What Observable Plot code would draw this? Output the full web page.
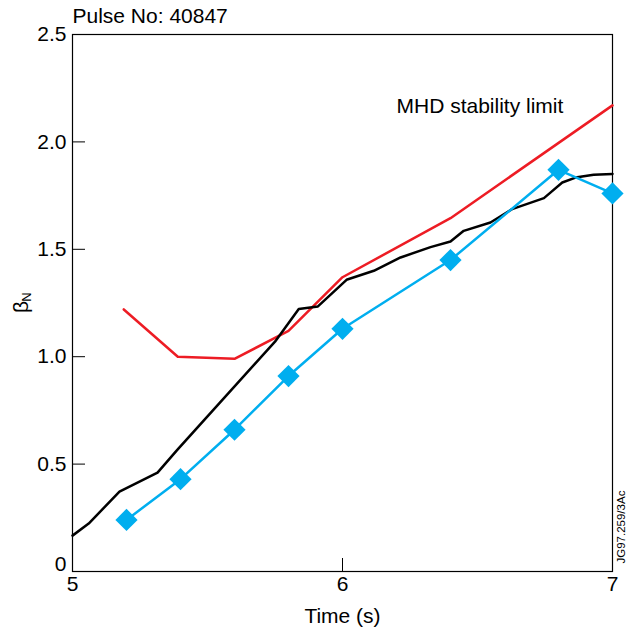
<!DOCTYPE html>
<html>
<head>
<meta charset="utf-8">
<script src="https://cdn.jsdelivr.net/npm/d3@7"></script>
<script src="https://cdn.jsdelivr.net/npm/@observablehq/plot@0.6"></script>
<style>
  html, body { margin: 0; padding: 0; background: #fff; }
</style>
</head>
<body>
<div id="chart"></div>
<script>
// Normalised beta vs time for JET pulse 40847

// MHD stability limit (red)
const limitTime = [5.19, 5.39, 5.6, 5.8, 6.0, 6.4, 7.0];
const limitBeta = [1.22, 1.0, 0.99, 1.12, 1.37, 1.645, 2.17];

// Measured beta_N trace (black)
const traceTime = [5.0, 5.06, 5.174, 5.315, 5.388, 5.75, 5.838, 5.909, 6.015, 6.116, 6.215, 6.326, 6.4, 6.449, 6.548, 6.628, 6.746, 6.77, 6.814, 6.863, 6.93, 7.0];
const traceBeta = [0.167, 0.223, 0.372, 0.46, 0.566, 1.07, 1.222, 1.234, 1.358, 1.40, 1.462, 1.51, 1.536, 1.586, 1.625, 1.687, 1.738, 1.764, 1.811, 1.834, 1.847, 1.851];

// Sampled points (blue diamonds)
const sampleTime = [5.2, 5.4, 5.6, 5.8, 6.0, 6.4, 6.8, 7.0];
const sampleBeta = [0.24, 0.43, 0.66, 0.91, 1.13, 1.45, 1.87, 1.76];

// Axis ticks
const xTicks = [5, 6, 7];
const yTicks = [0.5, 1.0, 1.5, 2.0, 2.5];
const yZeroTick = [0];
const xInnerTicks = [6];
const yInnerTicks = [0.5, 1.0, 1.5, 2.0];

// Annotation text
const annotations = [{t: 6.2, b: 2.165, text: "MHD stability limit"}];
const pulseLabel = "Pulse No: 40847";
const xLabel = "Time (s)";
const figureCode = "JG97.259/3Ac";

const toRows = (ts, bs) => ts.map((t, i) => ({t, b: bs[i]}));
const limit = toRows(limitTime, limitBeta);
const trace = toRows(traceTime, traceBeta);
const samples = toRows(sampleTime, sampleBeta);

const W = 626, H = 630;
const mL = 72, mR = 14, mT = 34, mB = 59;
const frameW = W - mL - mR, frameH = H - mT - mB;
const tickLen = 13;

const RED = "#ed1c24", BLUE = "#00aeef";

const chart = Plot.plot({
  width: W,
  height: H,
  marginLeft: mL,
  marginRight: mR,
  marginTop: mT,
  marginBottom: mB,
  style: {fontFamily: "'Liberation Sans', Arial, Helvetica, sans-serif", fontSize: "21px", color: "#000", background: "#fff"},
  x: {domain: [5, 7]},
  y: {domain: [0, 2.5]},
  marks: [
    Plot.frame({stroke: "#000", strokeWidth: 1.2}),
    Plot.tickY(yInnerTicks, {y: d => d, insetRight: frameW - tickLen, stroke: "#000", strokeWidth: 1}),
    Plot.tickX(xInnerTicks, {x: d => d, insetTop: frameH - tickLen, stroke: "#000", strokeWidth: 1}),
    Plot.axisY({ticks: yTicks, tickSize: 0, tickPadding: 6, label: null, fontSize: 21,
      tickFormat: d => d.toFixed(1)}),
    // the zero label sits just above the corner
    Plot.axisY({ticks: yZeroTick, tickSize: 0, tickPadding: 6, label: null, fontSize: 21, dy: -7,
      tickFormat: d => String(d)}),
    Plot.axisX({ticks: xTicks, tickSize: 0, tickPadding: 5, label: null, fontSize: 21,
      tickFormat: d => String(d)}),
    Plot.line(limit, {x: "t", y: "b", stroke: RED, strokeWidth: 2.5}),
    Plot.line(trace, {x: "t", y: "b", stroke: "#000", strokeWidth: 2.5}),
    Plot.line(samples, {x: "t", y: "b", stroke: BLUE, strokeWidth: 2.5}),
    Plot.dot(samples, {x: "t", y: "b", symbol: "diamond2", r: 10, fill: BLUE, stroke: "none"}),
    Plot.text(annotations, {x: "t", y: "b", text: "text", textAnchor: "start", lineAnchor: "middle", fontSize: 21}),
    Plot.text([pulseLabel], {frameAnchor: "top-left", textAnchor: "start", lineAnchor: "middle", dy: -18.5, fontSize: 21}),
    Plot.text([xLabel], {frameAnchor: "bottom", textAnchor: "middle", lineAnchor: "middle", dy: 45, fontSize: 21}),
    Plot.text(["β"], {frameAnchor: "left", rotate: -90, textAnchor: "middle", lineAnchor: "middle", dx: -51, dy: 4, fontSize: 21}),
    Plot.text(["N"], {frameAnchor: "left", rotate: -90, textAnchor: "middle", lineAnchor: "middle", dx: -46, dy: -6, fontSize: 13}),
    Plot.text([figureCode], {frameAnchor: "bottom-right", rotate: -90, textAnchor: "start", lineAnchor: "middle", dx: 9, dy: -8, fontSize: 11.5})
  ]
});

document.getElementById("chart").appendChild(chart);
</script>
</body>
</html>
